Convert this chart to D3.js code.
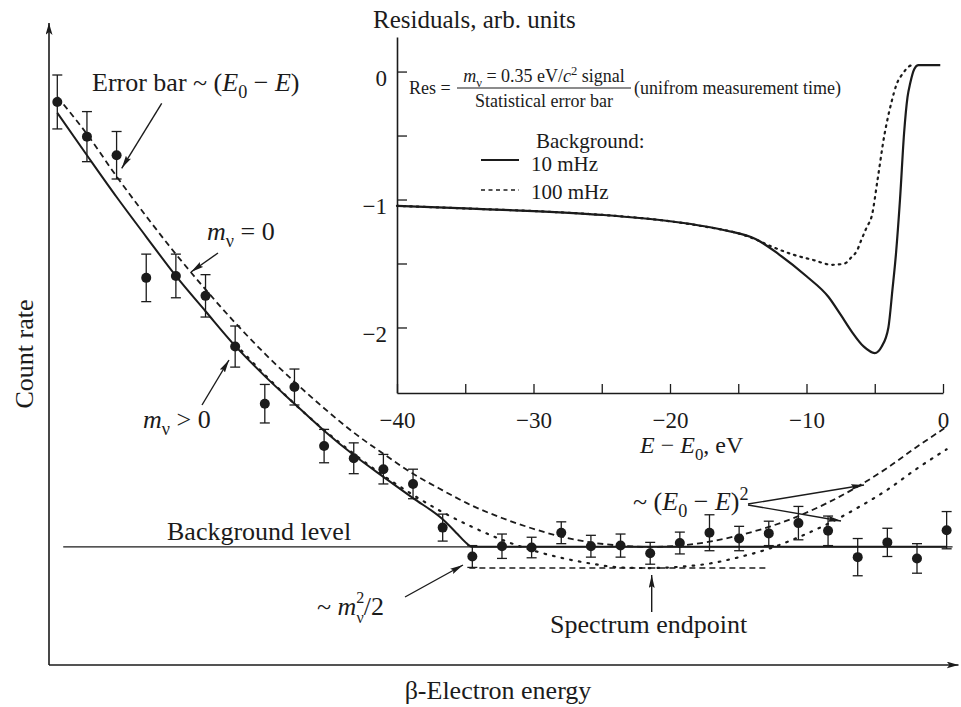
<!DOCTYPE html>
<html><head><meta charset="utf-8">
<script src="https://cdn.jsdelivr.net/npm/d3@7/dist/d3.min.js"></script>
<style>html,body{margin:0;padding:0;background:#fff;} svg{display:block;}</style>
</head><body>
<svg id="chart" width="961" height="707"></svg>
<script>
// ================= DATA =================
// Main schematic spectrum (energy in bins relative to E0, count rate in arb. units)
const energyBins  = [-20,-19,-18,-17,-16,-15,-14,-13,-12,-11,-10,-9,-8,-7,-6,-5,-4,-3,-2,-1,0,1,2,3,4,5,6,7,8,9,10];
const countRates  = [87.7,82.3,79.4,60.3,60.6,57.5,49.6,40.7,43.3,34.1,32.2,30.5,28.2,21.4,16.9,18.5,18.3,20.6,18.5,18.6,17.4,19.0,20.6,19.7,20.5,22.1,20.9,16.8,19.1,16.6,21.0];
const countErrors = [4.2,3.9,3.7,3.7,3.4,3.3,3.2,3.0,2.8,2.6,2.4,2.3,2.3,2.1,1.7,1.9,1.6,1.7,1.7,1.8,1.7,1.7,2.8,1.9,1.9,2.6,2.3,2.9,2.2,2.3,2.9];
// m_nu = 0 curve (dashed)
const masslessRate = [88.5,82.7,76.1,69.9,64.0,58.5,53.3,48.5,44.1,40.0,36.2,32.9,29.8,27.2,24.8,22.9,21.3,20.0,19.1,18.6,18.4,18.6,19.2,20.2,21.5,23.2,25.3,27.8,30.7,34.0,37.1];
// m_nu > 0 curve (solid)
const massiveEnergy = [-20,-19,-18,-17,-16,-15,-14,-13,-12,-11,-10,-9,-8,-7,-6.5,-6.25,-6,10];
const massiveRate   = [86.0,79.4,72.9,66.7,60.6,55.1,49.7,45.0,40.7,36.5,32.7,29.3,26.0,22.7,20.4,19.2,18.4,18.4];
// shifted curve (dotted)
const shiftedEnergy = [-14,-13,-12,-11,-10,-9,-8,-7,-6,-5,-4,-3,-2,-1,0,1,2,3,4,5,6,7,8,9,10];
const shiftedRate   = [50.0,45.2,40.7,36.6,32.9,29.5,26.5,23.8,21.5,19.5,17.9,16.7,15.8,15.2,15.1,15.3,15.8,16.8,18.1,19.9,22.0,24.5,27.3,30.6,33.6];
const backgroundRate = 18.4;
const backgroundExtent = [-19.8, 10.2];
const shiftLevelRate = 15.1;
const shiftLevelExtent = [-6.1, 3.9];

// Inset: residuals vs E - E0 (eV)
const insetE10   = [-40,-35,-30,-25,-20,-16,-13.7,-12,-10,-8.4,-7.5,-6.7,-5.8,-5.0,-4.5,-4.0,-3.7,-3.45,-3.15,-2.85,-2.6,-2.4,-2.1,-1.8,-0.2];
const insetRes10 = [-1.05,-1.07,-1.09,-1.12,-1.17,-1.24,-1.31,-1.43,-1.60,-1.76,-1.90,-2.03,-2.15,-2.20,-2.15,-2.00,-1.70,-1.43,-1.00,-0.48,-0.20,-0.09,0.02,0.05,0.05];
const insetE100   = [-40,-35,-30,-25,-20,-17,-15.5,-14,-12.5,-11,-9.6,-8.1,-7.2,-6.7,-6.3,-6.0,-5.6,-5.2,-4.8,-4.3,-3.8,-3.4,-2.9,-2.5,-2.2];
const insetRes100 = [-1.05,-1.07,-1.09,-1.12,-1.17,-1.22,-1.25,-1.30,-1.37,-1.43,-1.47,-1.51,-1.50,-1.45,-1.40,-1.32,-1.22,-1.12,-0.85,-0.50,-0.25,-0.10,-0.01,0.04,0.05];
const insetXTicks  = [-40,-35,-30,-25,-20,-15,-10,-5,0];
const insetXLabels = ["−40","","−30","","−20","","−10","","0"];
const insetYTicks  = [-2,-1.5,-1,-0.5,0];
const insetYLabels = ["−2","","−1","","0"];

// ================= DRAWING =================
const INK = "#1b1b1b";
const FONT = '"Liberation Serif","Times New Roman",Times,serif';
const svg = d3.select("#chart").style("font-family", FONT);

const defs = svg.append("defs");
function marker(id, len, wid, notch){
  defs.append("marker").attr("id", id)
    .attr("viewBox", `0 0 ${len} ${wid}`).attr("refX", len).attr("refY", wid/2)
    .attr("markerWidth", len).attr("markerHeight", wid)
    .attr("markerUnits", "userSpaceOnUse").attr("orient", "auto")
    .append("path").attr("d", `M0,0 L${len},${wid/2} L0,${wid} L${notch},${wid/2} Z`).attr("fill", INK);
}
marker("arr", 13, 6, 2);
marker("axarr", 12, 7, 3);

// main scales
const x = d3.scaleLinear().domain([-20.28, 10.4]).range([49, 958.5]);
const y = d3.scaleLinear().domain([0, 100]).range([665, 23]);

const main = svg.append("g");
main.append("line").attr("x1", x(x.domain()[0])).attr("x2", x(x.domain()[1]))
  .attr("y1", y(0)).attr("y2", y(0)).attr("stroke", INK).attr("stroke-width", 1.6).attr("marker-end", "url(#axarr)");
main.append("line").attr("x1", x(x.domain()[0])).attr("x2", x(x.domain()[0]))
  .attr("y1", y(0)).attr("y2", y(100)).attr("stroke", INK).attr("stroke-width", 1.6).attr("marker-end", "url(#axarr)");

main.append("line").attr("x1", x(backgroundExtent[0])).attr("x2", x(backgroundExtent[1]))
  .attr("y1", y(backgroundRate)).attr("y2", y(backgroundRate)).attr("stroke", INK).attr("stroke-width", 1.3);
main.append("line").attr("x1", x(shiftLevelExtent[0])).attr("x2", x(shiftLevelExtent[1]))
  .attr("y1", y(shiftLevelRate)).attr("y2", y(shiftLevelRate)).attr("stroke", INK).attr("stroke-width", 1.5)
  .attr("stroke-dasharray", "6,4");

const line = d3.line().x(d => x(d[0])).y(d => y(d[1])).curve(d3.curveMonotoneX);
main.append("path").attr("d", line(energyBins.map((e,i)=>[e, masslessRate[i]])))
  .attr("fill","none").attr("stroke", INK).attr("stroke-width", 1.8).attr("stroke-dasharray","6,4");
main.append("path").attr("d", line(shiftedEnergy.map((e,i)=>[e, shiftedRate[i]])))
  .attr("fill","none").attr("stroke", INK).attr("stroke-width", 2.2).attr("stroke-dasharray","1.6,7.2").attr("stroke-linecap","round");
main.append("path").attr("d", line(massiveEnergy.map((e,i)=>[e, massiveRate[i]])))
  .attr("fill","none").attr("stroke", INK).attr("stroke-width", 2);

const pts = main.append("g");
energyBins.forEach((e,i)=>{
  const cx = x(e), v = countRates[i], er = countErrors[i];
  pts.append("line").attr("x1",cx).attr("x2",cx).attr("y1",y(v-er)).attr("y2",y(v+er)).attr("stroke",INK).attr("stroke-width",1.3);
  [v-er, v+er].forEach(b => pts.append("line").attr("x1",cx-5).attr("x2",cx+5).attr("y1",y(b)).attr("y2",y(b)).attr("stroke",INK).attr("stroke-width",1.3));
  pts.append("circle").attr("cx",cx).attr("cy",y(v)).attr("r",5).attr("fill",INK);
});

function rich(g, px, py, parts, size, anchor){
  const t = g.append("text").attr("x",px).attr("y",py).attr("font-size",size)
    .attr("text-anchor",anchor||"start").attr("fill",INK);
  let cur = 0;
  parts.forEach(p=>{
    const target = p.sub ? size*(p.lo||0.28) : (p.sup ? -size*(p.hi||0.4) : 0);
    const s = t.append("tspan").attr("dy", target-cur).text(p.t);
    cur = target;
    if (p.i) s.attr("font-style","italic");
    if (p.sub || p.sup) s.attr("font-size", size*(p.sc||0.7));
    if (p.dx) s.attr("dx", p.dx);
  });
  return t;
}

const ann = svg.append("g");
const arrows = [
  [161.7,103.3,121.7,168.3],
  [218,253,191,272],
  [202,405,229,360],
  [405,597,463,565],
  [651.7,612,651.7,575],
  [748,504,864,485],
  [748,505,841,521]
];
arrows.forEach(a => ann.append("line").attr("x1",a[0]).attr("y1",a[1]).attr("x2",a[2]).attr("y2",a[3])
  .attr("stroke",INK).attr("stroke-width",1.4).attr("marker-end","url(#arr)"));

const FS = 26;
rich(ann, 92, 91, [{t:"Error bar ~ ("},{t:"E",i:true},{t:"0",sub:true},{t:" − "},{t:"E",i:true},{t:")"}], FS);
rich(ann, 207, 240, [{t:"m",i:true},{t:"ν",sub:true},{t:" = 0"}], FS);
rich(ann, 143, 428, [{t:"m",i:true},{t:"ν",sub:true},{t:" > 0"}], FS);
rich(ann, 167, 540, [{t:"Background level"}], FS);
rich(ann, 317, 615, [{t:"~ "},{t:"m",i:true},{t:"2",sup:true,hi:0.45,sc:0.62},{t:"ν",sub:true,lo:0.31,sc:0.62,dx:-8},{t:"/2"}], FS);
rich(ann, 550, 633, [{t:"Spectrum endpoint"}], FS);
rich(ann, 633, 510, [{t:"~ ("},{t:"E",i:true},{t:"0",sub:true},{t:" − "},{t:"E",i:true},{t:")"},{t:"2",sup:true}], FS);
rich(ann, 498, 699, [{t:"β-Electron energy"}], FS, "middle");
ann.append("text").attr("transform","translate(33,354) rotate(-90)").attr("text-anchor","middle")
  .attr("font-size",FS).attr("fill",INK).text("Count rate");

// ================= INSET =================
const ix = d3.scaleLinear().domain([-40, 0]).range([397, 943]);
const iy = d3.scaleLinear().domain([-2.512, 0.27]).range([393, 37]);
const inset = svg.append("g");

const yAx = inset.append("g").attr("transform",`translate(${ix(-40)},0)`)
  .call(d3.axisLeft(iy).tickValues(insetYTicks).tickSizeInner(-10).tickSizeOuter(0).tickPadding(10)
    .tickFormat((d,i)=>insetYLabels[i]));
const xAx = inset.append("g").attr("transform",`translate(0,${iy(-2.512)})`)
  .call(d3.axisBottom(ix).tickValues(insetXTicks).tickSizeInner(-9).tickSizeOuter(0).tickPadding(19)
    .tickFormat((d,i)=>insetXLabels[i]));
[yAx,xAx].forEach(g=>{
  g.attr("font-family",FONT).attr("font-size",23);
  g.select(".domain").attr("stroke",INK).attr("stroke-width",1.6);
  g.selectAll(".tick line").attr("stroke",INK).attr("stroke-width",1.3);
  g.selectAll(".tick text").attr("fill",INK);
});
yAx.selectAll(".tick text").attr("dy","0.62em");

const iline = d3.line().x(d=>ix(d[0])).y(d=>iy(d[1])).curve(d3.curveMonotoneX);
inset.append("path").attr("d", iline(insetE100.map((e,i)=>[e,insetRes100[i]])))
  .attr("fill","none").attr("stroke",INK).attr("stroke-width",2.2).attr("stroke-dasharray","1.6,5").attr("stroke-linecap","round");
inset.append("path").attr("d", iline(insetE10.map((e,i)=>[e,insetRes10[i]])))
  .attr("fill","none").attr("stroke",INK).attr("stroke-width",2.2);

rich(inset, 373, 28, [{t:"Residuals, arb. units"}], 25);
rich(inset, 640, 453, [{t:"E",i:true},{t:" − "},{t:"E",i:true},{t:"0",sub:true},{t:", eV"}], 24);

rich(inset, 409, 94, [{t:"Res ="}], 18);
rich(inset, 544, 82, [{t:"m",i:true},{t:"ν",sub:true},{t:" = 0.35 eV/"},{t:"c",i:true},{t:"2",sup:true},{t:" signal"}], 18, "middle");
inset.append("line").attr("x1",457).attr("x2",631).attr("y1",88).attr("y2",88).attr("stroke",INK).attr("stroke-width",1.1);
rich(inset, 544, 107, [{t:"Statistical error bar"}], 18, "middle");
rich(inset, 634, 94, [{t:"(unifrom measurement time)"}], 18);

rich(inset, 536, 148, [{t:"Background:"}], 21);
inset.append("line").attr("x1",481).attr("x2",519).attr("y1",160).attr("y2",160).attr("stroke",INK).attr("stroke-width",2);
rich(inset, 531, 171, [{t:"10 mHz"}], 21);
inset.append("line").attr("x1",481).attr("x2",519).attr("y1",190).attr("y2",190).attr("stroke",INK).attr("stroke-width",1.6).attr("stroke-dasharray","4,3.5");
rich(inset, 531, 199, [{t:"100 mHz"}], 21);
</script>
</body></html>
